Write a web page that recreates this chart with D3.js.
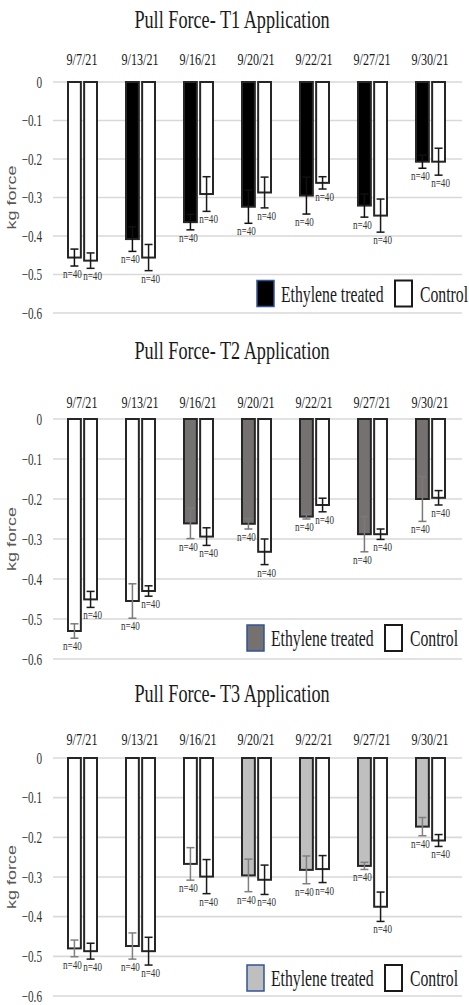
<!DOCTYPE html>
<html>
<head>
<meta charset="utf-8">
<script src="https://cdn.jsdelivr.net/npm/d3@7.9.0/dist/d3.min.js"></script>
<style>
  body { margin: 0; background: #fff; }
  svg { display: block; }
  text { font-family: "Liberation Serif", "Times New Roman", serif; }
</style>
</head>
<body>
<svg id="chart" width="469" height="1005"></svg>
<script>
// dates on the x axis
const dates = ['9/7/21', '9/13/21', '9/16/21', '9/20/21', '9/22/21', '9/27/21', '9/30/21'];
const yTicks = [0, -0.1, -0.2, -0.3, -0.4, -0.5, -0.6];
const sampleSize = [40, 40, 40, 40, 40, 40, 40];

// T1
const t1Treated    = [-0.456, -0.408, -0.364, -0.324, -0.295, -0.321, -0.207];
const t1TreatedErr = [0.022, 0.032, 0.020, 0.043, 0.048, 0.030, 0.017];
const t1Control    = [-0.464, -0.456, -0.291, -0.287, -0.262, -0.347, -0.207];
const t1ControlErr = [0.020, 0.034, 0.045, 0.040, 0.016, 0.043, 0.035];

// T2
const t2Treated    = [-0.530, -0.455, -0.261, -0.262, -0.244, -0.288, -0.200];
const t2TreatedErr = [0.018, 0.043, 0.038, 0.013, 0.006, 0.044, 0.056];
const t2Control    = [-0.451, -0.430, -0.294, -0.332, -0.215, -0.288, -0.197];
const t2ControlErr = [0.020, 0.013, 0.022, 0.032, 0.017, 0.013, 0.018];

// T3
const t3Treated    = [-0.480, -0.474, -0.267, -0.296, -0.282, -0.272, -0.173];
const t3TreatedErr = [0.021, 0.033, 0.041, 0.041, 0.035, 0.009, 0.023];
const t3Control    = [-0.487, -0.487, -0.299, -0.307, -0.280, -0.375, -0.208];
const t3ControlErr = [0.020, 0.035, 0.043, 0.037, 0.034, 0.037, 0.015];

// index of first date where the treatment had been applied (earlier bars are unfilled)
const firstTreatedDate = [1, 2, 3];

const panels = [
  { title: 'Pull Force- T1 Application', treated: t1Treated, tErr: t1TreatedErr, control: t1Control, cErr: t1ControlErr,
    fill: '#000000', errColor: '#111', titleY: 28, dateY: 65, y0: 82, y6: 313, legY: 293.5, legX: 257 },
  { title: 'Pull Force- T2 Application', treated: t2Treated, tErr: t2TreatedErr, control: t2Control, cErr: t2ControlErr,
    fill: '#767171', errColor: '#7a7a7a', titleY: 359, dateY: 408, y0: 419, y6: 659, legY: 638, legX: 247 },
  { title: 'Pull Force- T3 Application', treated: t3Treated, tErr: t3TreatedErr, control: t3Control, cErr: t3ControlErr,
    fill: '#bfbfbf', errColor: '#808080', titleY: 702, dateY: 745, y0: 758, y6: 996, legY: 978, legX: 247 }
];

const svg = d3.select('#chart');
const SQ = 0.7; // text in the source is squeezed horizontally

function sText(g, x, y, str, size, anchor) {
  return g.append('text')
    .attr('transform', `translate(${x},${y}) scale(${SQ},1)`)
    .attr('text-anchor', anchor)
    .style('font-size', size + 'px')
    .attr('fill', '#1a1a1a')
    .text(str);
}

const x0 = d3.scaleBand().domain(dates).range([53, 459]);
const x1 = d3.scaleBand().domain(['treated', 'control']).range([-15, 16]).paddingInner(0.08);

panels.forEach((p, pi) => {
  const g = svg.append('g');
  const y = d3.scaleLinear().domain([0, -0.6]).range([p.y0, p.y6]);

  // title
  sText(g, 232, p.titleY, p.title, 26, 'middle');

  // gridlines
  g.selectAll('line.grid').data(yTicks).join('line')
    .attr('x1', 53).attr('x2', 462)
    .attr('y1', d => y(d)).attr('y2', d => y(d))
    .attr('stroke', '#d9d9d9').attr('stroke-width', 1.6);

  // y tick labels
  yTicks.forEach(t => {
    sText(g, 42, y(t) + 5.5, t === 0 ? '0' : d3.format('.1f')(t), 16, 'end').attr('fill', '#333');
  });

  // y axis title
  g.append('text')
    .attr('transform', `translate(16,${(p.y0 + p.y6) / 2}) rotate(-90) scale(1,${SQ})`)
    .attr('text-anchor', 'middle')
    .style('font-family', '"Liberation Sans", Arial, sans-serif')
    .style('font-size', '18px')
    .attr('fill', '#595959')
    .text('kg force');

  // date labels on top
  dates.forEach(d => sText(g, x0(d) + x0.bandwidth() / 2, p.dateY, d, 17.3, 'middle'));

  const rows = [];
  dates.forEach((d, i) => {
    rows.push({ date: d, key: 'treated', v: p.treated[i], e: p.tErr[i], i,
      fill: i >= firstTreatedDate[pi] ? p.fill : '#ffffff', err: p.errColor });
    rows.push({ date: d, key: 'control', v: p.control[i], e: p.cErr[i], i,
      fill: '#ffffff', err: '#1a1a1a' });
  });
  const cx = r => x0(r.date) + x0.bandwidth() / 2 + x1(r.key);
  const bw = x1.bandwidth();

  g.selectAll('rect.bar').data(rows).join('rect')
    .attr('x', r => cx(r) + 1)
    .attr('y', y(0))
    .attr('width', bw - 2)
    .attr('height', r => y(r.v) - y(0))
    .attr('fill', r => r.fill)
    .attr('stroke', '#262626')
    .attr('stroke-width', 2);

  // error bars
  const eg = g.selectAll('g.err').data(rows).join('g')
    .attr('stroke', r => r.err).attr('stroke-width', 1.5);
  eg.append('line')
    .attr('x1', r => cx(r) + bw / 2).attr('x2', r => cx(r) + bw / 2)
    .attr('y1', r => y(r.v + r.e)).attr('y2', r => y(r.v - r.e));
  eg.append('line')
    .attr('x1', r => cx(r) + bw / 2 - 4).attr('x2', r => cx(r) + bw / 2 + 4)
    .attr('y1', r => y(r.v + r.e)).attr('y2', r => y(r.v + r.e));
  eg.append('line')
    .attr('x1', r => cx(r) + bw / 2 - 4).attr('x2', r => cx(r) + bw / 2 + 4)
    .attr('y1', r => y(r.v - r.e)).attr('y2', r => y(r.v - r.e));

  // n labels
  rows.forEach(r => {
    const off = r.key === 'treated' ? -2 : 2;
    sText(g, cx(r) + bw / 2 + off, y(r.v - r.e) + 12, 'n=' + sampleSize[r.i], 13, 'middle').attr('fill', '#333');
  });

  // legend
  const lg = g.append('g').attr('transform', `translate(${p.legX},${p.legY})`);
  lg.append('rect').attr('x', 0).attr('y', -13).attr('width', 17).attr('height', 26)
    .attr('fill', p.fill).attr('stroke', '#2f5597').attr('stroke-width', 1.5);
  sText(lg, 24, 8, 'Ethylene treated', 22.5, 'start');
  lg.append('rect').attr('x', 138).attr('y', -13).attr('width', 17).attr('height', 26)
    .attr('fill', '#fff').attr('stroke', '#1a1a1a').attr('stroke-width', 2);
  sText(lg, 163, 8, 'Control', 22.5, 'start');
});
</script>
</body>
</html>
